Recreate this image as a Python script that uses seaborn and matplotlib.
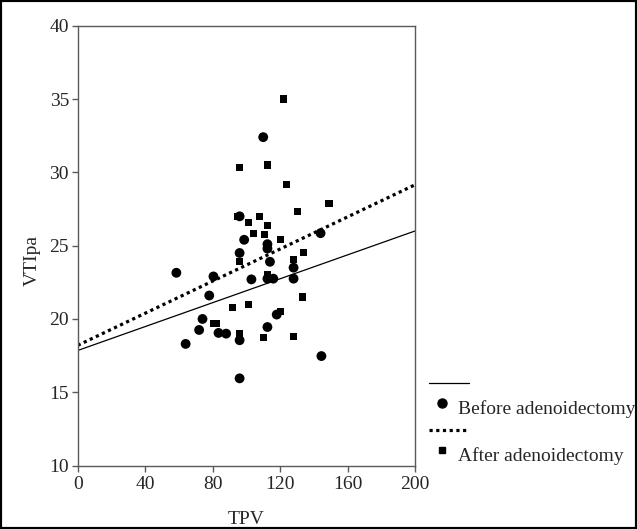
import numpy as np
import pandas as pd
import matplotlib
matplotlib.use("Agg")
import matplotlib.pyplot as plt
import seaborn as sns
from matplotlib.lines import Line2D
from matplotlib.patches import Rectangle

# values
before_tpv = [58.5, 64, 72, 74, 78, 80.5, 83.5, 88, 96, 96, 96, 96, 98.7, 103, 110,
              112.5, 112.5, 112.5, 112.5, 114, 116, 118, 128, 128, 144, 144.5]
before_vti = [23.15, 18.3, 19.25, 20.0, 21.6, 22.9, 19.05, 19.0, 27.0, 24.5, 18.55, 15.95, 25.4, 22.7, 32.4,
              25.1, 24.8, 22.75, 19.45, 23.9, 22.75, 20.3, 23.5, 22.75, 25.85, 17.47]

after_tpv = [80.5, 82, 92, 95, 96, 96, 96, 101.3, 101.3, 104, 108, 110, 111,
             112.5, 112.5, 112.5, 120, 120, 122.3, 124, 128.2, 128.2, 130.2, 133.5, 133.7, 149]
after_vti = [19.7, 19.7, 20.8, 27.0, 30.35, 23.9, 19.0, 26.6, 21.0, 25.8, 27.0, 18.75, 25.75,
             30.5, 26.4, 23.0, 25.4, 20.5, 35.0, 29.15, 24.05, 18.8, 27.3, 21.5, 24.55, 27.85]

# fitted lines (endpoints at the x-axis limits)
fit_tpv = [0, 200]
fit_before = [17.85, 26.0]
fit_after = [18.2, 29.15]

x_ticks = [0, 40, 80, 120, 160, 200]
y_ticks = [10, 15, 20, 25, 30, 35, 40]

sns.set_style("ticks")
plt.rcParams['font.family'] = ['Liberation Serif', 'DejaVu Serif']
FS = 14

W, H = 637, 529
fig = plt.figure(figsize=(W / 100, H / 100), dpi=100)
ax = fig.add_axes([77.7 / W, 1 - 465.6 / H, (415 - 77.7) / W, (465.6 - 25.7) / H])

df_before = pd.DataFrame({"TPV": before_tpv, "VTIpa": before_vti})
df_after = pd.DataFrame({"TPV": after_tpv, "VTIpa": after_vti})
df_fit = pd.DataFrame({"TPV": fit_tpv, "before": fit_before, "after": fit_after})

sns.lineplot(data=df_fit, x="TPV", y="before", ax=ax, color="black", lw=0.9)
sns.lineplot(data=df_fit, x="TPV", y="after", ax=ax, color="black", lw=2.3,
             linestyle=(0, (1, 1.1)))
sns.scatterplot(data=df_before, x="TPV", y="VTIpa", ax=ax, marker="o", s=50,
                color="black", edgecolor="none", zorder=3)
sns.scatterplot(data=df_after, x="TPV", y="VTIpa", ax=ax, marker="s", s=26,
                color="black", edgecolor="none", zorder=3)

ax.set_xlim(0, 200)
ax.set_ylim(10, 40)
ax.set_xticks(x_ticks)
ax.set_yticks(y_ticks)
for sp in ax.spines.values():
    sp.set_color("#5a5a5a")
    sp.set_linewidth(1.0)
ax.tick_params(axis="both", length=4.3, width=1.0, color="#5a5a5a", labelsize=FS, pad=2)
ax.tick_params(axis="x", pad=3)
ax.set_xlabel("TPV", fontsize=FS)
ax.set_ylabel("VTIpa", fontsize=FS)
ax.xaxis.set_label_coords(0.5, -0.103)
ax.yaxis.set_label_coords(-0.11, 0.467)

# legend drawn by hand, SPSS style
def px(x, y):
    return x / W, 1 - y / H

tf = fig.transFigure
x0, y0 = px(429, 383)
x1, _ = px(469, 383)
fig.add_artist(Line2D([x0, x1], [y0, y0], transform=tf, color="black", lw=0.9))
xm, ym = px(442, 403)
fig.add_artist(Line2D([xm], [ym], transform=tf, marker="o", ms=6.5, color="black", lw=0))
tx, ty = px(458, 409)
fig.text(tx, ty, "Before adenoidectomy", fontsize=FS, va="center", ha="left")
_, y2 = px(0, 430)
fig.add_artist(Line2D([x0, x1], [y2, y2], transform=tf, color="black", lw=2.3,
                      linestyle=(0, (1, 1.1))))
xm, ym = px(442, 450)
fig.add_artist(Line2D([xm], [ym], transform=tf, marker="s", ms=4.5, color="black", lw=0))
tx, ty = px(458, 456)
fig.text(tx, ty, "After adenoidectomy", fontsize=FS, va="center", ha="left")

# black frame around the whole picture
fig.add_artist(Rectangle((0, 0), 1, 1, transform=tf, fill=False, edgecolor="black",
                         lw=3, clip_on=False))

fig.savefig("out.png", dpi=100)
